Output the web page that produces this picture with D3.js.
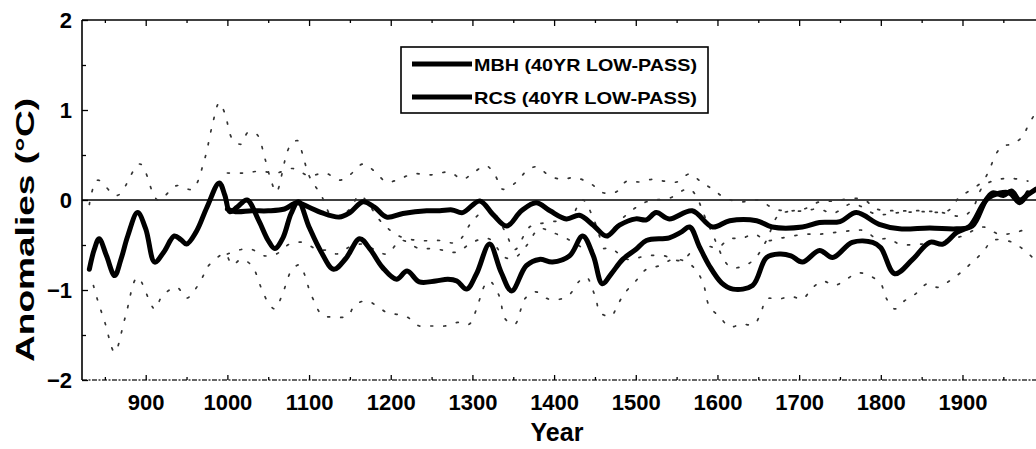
<!DOCTYPE html>
<html><head><meta charset="utf-8">
<script src="https://cdn.jsdelivr.net/npm/d3@7"></script>
<style>
body{margin:0;background:#fff}
svg{display:block}
text{font-family:"Liberation Sans",Arial,Helvetica,sans-serif;fill:#000}
</style>
</head><body>
<svg id="c" width="1036" height="449"></svg>
<script>
// ---- data ----
const xTicks = [900,1000,1100,1200,1300,1400,1500,1600,1700,1800,1900];
const xMinorTicks = [850,950,1050,1150,1250,1350,1450,1550,1650,1750,1850,1950];
const yTicks = [-2,-1,0,1,2];
const yMinorTicks = [-1.5,-0.5,0.5,1.5];
const seriesNames = ["MBH (40YR LOW-PASS)","RCS (40YR LOW-PASS)"];

const mbh = [[1000,-0.10],[1010,-0.13],[1030,-0.12],[1050,-0.12],[1070,-0.10],[1085,-0.03],[1100,-0.08],[1115,-0.14],[1137,-0.19],[1150,-0.14],[1166,-0.02],[1180,-0.08],[1195,-0.19],[1215,-0.15],[1244,-0.12],[1260,-0.12],[1275,-0.11],[1288,-0.14],[1309,-0.01],[1325,-0.16],[1342,-0.29],[1360,-0.12],[1378,-0.03],[1395,-0.12],[1415,-0.21],[1431,-0.17],[1448,-0.28],[1464,-0.40],[1480,-0.28],[1500,-0.21],[1513,-0.22],[1525,-0.14],[1541,-0.21],[1569,-0.12],[1594,-0.30],[1615,-0.23],[1648,-0.23],[1667,-0.30],[1704,-0.30],[1725,-0.25],[1750,-0.24],[1770,-0.14],[1798,-0.27],[1823,-0.32],[1860,-0.31],[1893,-0.32],[1912,-0.29],[1929,0.00],[1937,0.05],[1957,0.08],[1970,-0.03],[1980,0.08]];

const rcs = [[831,-0.77],[837,-0.55],[843,-0.43],[852,-0.62],[862,-0.84],[870,-0.65],[878,-0.40],[890,-0.14],[900,-0.32],[911,-0.69],[922,-0.58],[935,-0.40],[943,-0.44],[950,-0.49],[962,-0.35],[975,-0.08],[990,0.19],[997,0.05],[1003,-0.13],[1012,-0.08],[1024,0.00],[1038,-0.22],[1050,-0.45],[1058,-0.54],[1068,-0.42],[1078,-0.15],[1087,-0.02],[1100,-0.30],[1115,-0.58],[1130,-0.77],[1145,-0.65],[1162,-0.43],[1175,-0.55],[1190,-0.75],[1207,-0.88],[1220,-0.79],[1235,-0.91],[1255,-0.90],[1270,-0.88],[1281,-0.90],[1293,-0.99],[1305,-0.82],[1321,-0.49],[1335,-0.80],[1348,-1.01],[1366,-0.73],[1382,-0.66],[1398,-0.69],[1419,-0.62],[1435,-0.40],[1448,-0.62],[1459,-0.93],[1470,-0.82],[1484,-0.66],[1500,-0.55],[1513,-0.45],[1541,-0.42],[1555,-0.36],[1566,-0.30],[1578,-0.52],[1590,-0.73],[1605,-0.92],[1619,-0.99],[1643,-0.95],[1660,-0.64],[1676,-0.60],[1690,-0.62],[1704,-0.69],[1725,-0.56],[1741,-0.64],[1765,-0.47],[1790,-0.47],[1800,-0.53],[1817,-0.82],[1839,-0.66],[1860,-0.47],[1876,-0.49],[1893,-0.36],[1909,-0.29],[1925,-0.05],[1937,0.08],[1950,0.05],[1960,0.10],[1970,0.00],[1980,0.06],[1990,0.12]];

// dotted uncertainty bounds
const mbhUpper = [[1000,0.30],[1020,0.30],[1040,0.32],[1060,0.30],[1080,0.35],[1100,0.27],[1120,0.30],[1137,0.22],[1150,0.28],[1166,0.40],[1180,0.32],[1195,0.20],[1210,0.23],[1227,0.29],[1250,0.28],[1272,0.31],[1288,0.23],[1302,0.31],[1317,0.38],[1328,0.27],[1337,0.12],[1354,0.20],[1366,0.32],[1379,0.37],[1394,0.27],[1410,0.23],[1425,0.25],[1445,0.18],[1460,0.08],[1476,0.09],[1489,0.21],[1504,0.20],[1521,0.23],[1535,0.21],[1550,0.20],[1566,0.29],[1580,0.20],[1594,0.12],[1610,0.02],[1630,-0.02],[1650,0.00],[1670,-0.10],[1690,-0.12],[1706,-0.10],[1725,-0.02],[1745,-0.01],[1765,0.02],[1780,0.00],[1795,-0.10],[1823,-0.12],[1850,-0.12],[1875,-0.14],[1900,-0.18],[1912,-0.10],[1925,0.15],[1940,0.22],[1960,0.24],[1980,0.21]];

const mbhLower = [[1000,-0.60],[1017,-0.55],[1030,-0.55],[1045,-0.62],[1060,-0.60],[1076,-0.49],[1092,-0.47],[1110,-0.55],[1123,-0.56],[1134,-0.60],[1150,-0.52],[1166,-0.49],[1180,-0.55],[1195,-0.60],[1213,-0.45],[1235,-0.54],[1250,-0.54],[1266,-0.56],[1281,-0.58],[1300,-0.47],[1320,-0.43],[1340,-0.64],[1352,-0.64],[1366,-0.51],[1382,-0.32],[1398,-0.36],[1420,-0.45],[1440,-0.55],[1460,-0.54],[1470,-0.54],[1490,-0.66],[1513,-0.62],[1535,-0.62],[1545,-0.66],[1557,-0.67],[1570,-0.56],[1582,-0.50],[1600,-0.53],[1615,-0.43],[1629,-0.43],[1645,-0.38],[1660,-0.45],[1680,-0.42],[1707,-0.38],[1725,-0.38],[1745,-0.36],[1765,-0.34],[1780,-0.34],[1795,-0.43],[1810,-0.43],[1823,-0.49],[1850,-0.49],[1876,-0.45],[1900,-0.40],[1925,-0.30],[1945,-0.38],[1965,-0.36],[1985,-0.30]];

const rcsUpper = [[831,-0.05],[841,0.22],[865,0.05],[893,0.40],[915,0.00],[938,0.16],[957,0.12],[972,0.45],[981,0.81],[990,1.08],[997,0.96],[1006,0.68],[1017,0.62],[1025,0.75],[1036,0.73],[1046,0.46],[1054,0.20],[1060,0.09],[1076,0.59],[1086,0.66],[1092,0.51],[1100,0.27],[1115,0.05],[1130,-0.20],[1150,-0.10],[1162,0.05],[1189,-0.25],[1210,-0.40],[1235,-0.45],[1260,-0.45],[1281,-0.47],[1302,-0.21],[1321,-0.10],[1340,-0.35],[1352,-0.55],[1370,-0.30],[1390,-0.25],[1419,-0.20],[1435,0.00],[1448,-0.20],[1460,-0.45],[1484,-0.20],[1513,-0.02],[1541,0.02],[1566,0.12],[1590,-0.30],[1615,-0.74],[1630,-0.74],[1645,-0.66],[1660,-0.45],[1676,-0.16],[1706,-0.12],[1725,-0.10],[1741,-0.15],[1765,-0.04],[1795,-0.16],[1823,-0.14],[1850,-0.13],[1882,-0.12],[1896,0.03],[1908,0.10],[1925,0.21],[1933,0.34],[1941,0.51],[1949,0.60],[1961,0.62],[1974,0.71],[1980,0.82],[1990,0.98]];

const rcsLower = [[836,-0.95],[840,-1.08],[850,-1.36],[862,-1.69],[875,-1.30],[890,-0.86],[911,-1.21],[920,-1.07],[938,-0.97],[950,-1.09],[960,-1.00],[970,-0.85],[975,-0.75],[997,-0.60],[1006,-0.72],[1017,-0.66],[1030,-0.73],[1042,-0.99],[1050,-1.14],[1058,-1.21],[1066,-1.08],[1072,-0.93],[1078,-0.79],[1088,-0.72],[1095,-0.84],[1100,-0.99],[1106,-1.12],[1116,-1.28],[1129,-1.30],[1147,-1.29],[1156,-1.17],[1170,-1.12],[1185,-1.19],[1195,-1.25],[1207,-1.27],[1220,-1.30],[1235,-1.40],[1250,-1.40],[1266,-1.40],[1282,-1.36],[1296,-1.38],[1305,-1.21],[1309,-1.10],[1315,-0.95],[1321,-0.90],[1333,-1.07],[1340,-1.32],[1352,-1.38],[1358,-1.25],[1364,-1.10],[1377,-1.02],[1393,-1.10],[1408,-1.10],[1420,-1.04],[1431,-0.90],[1440,-0.86],[1447,-0.99],[1452,-1.13],[1456,-1.25],[1470,-1.29],[1477,-1.18],[1486,-1.04],[1500,-0.90],[1513,-0.77],[1529,-0.73],[1545,-0.66],[1557,-0.67],[1570,-0.74],[1582,-0.91],[1590,-1.18],[1603,-1.30],[1615,-1.41],[1629,-1.38],[1645,-1.38],[1654,-1.23],[1660,-1.10],[1676,-1.10],[1690,-1.07],[1704,-1.10],[1716,-0.98],[1729,-0.90],[1743,-0.95],[1758,-0.88],[1772,-0.81],[1786,-0.84],[1800,-0.93],[1806,-1.08],[1817,-1.21],[1829,-1.12],[1843,-1.04],[1857,-0.93],[1870,-0.97],[1884,-0.90],[1900,-0.79],[1912,-0.69],[1925,-0.58],[1937,-0.45],[1961,-0.47],[1986,-0.64]];

// ---- drawing ----
const W = 1036, H = 449;
const svg = d3.select('#c');
const x = d3.scaleLinear().domain([822, 1990]).range([82, 1036]);
const y = d3.scaleLinear().domain([-2, 2]).range([380, 20]);

svg.append('defs').append('clipPath').attr('id','plot')
  .append('rect').attr('x',82).attr('y',20).attr('width',W-82).attr('height',360);

const line = d3.line().x(d => x(d[0])).y(d => y(d[1])).curve(d3.curveCatmullRom.alpha(0.5));

const g = svg.append('g').attr('clip-path','url(#plot)');

// zero line
g.append('line').attr('x1',x(822)).attr('x2',x(1990)).attr('y1',y(0)).attr('y2',y(0))
  .attr('stroke','#000').attr('stroke-width',1.3);

// dotted bounds
[mbhUpper, mbhLower, rcsUpper, rcsLower].forEach(s => {
  g.append('path').datum(s).attr('d', line).attr('fill','none')
    .attr('stroke','#333').attr('stroke-width',1.7)
    .attr('stroke-dasharray','2,11').attr('stroke-linecap','round');
});

// main series
[rcs, mbh].forEach(s => {
  g.append('path').datum(s).attr('d', line).attr('fill','none')
    .attr('stroke','#000').attr('stroke-width',5)
    .attr('stroke-linejoin','round').attr('stroke-linecap','round');
});

// axes
const fmt = d3.format('d');
const topMajor = svg.append('g').attr('transform','translate(0,20)')
  .call(d3.axisTop(x).tickValues(xTicks).tickSize(-6).tickFormat(''));
topMajor.select('.domain').attr('stroke-width',1.6).attr('d','M82,0H1036');
svg.append('g').attr('transform','translate(0,20)')
  .call(d3.axisTop(x).tickValues(xMinorTicks).tickSize(-3).tickFormat(''))
  .select('.domain').remove();

const bottom = svg.append('g').attr('transform','translate(0,380)')
  .call(d3.axisBottom(x).tickValues(xTicks).tickSize(-5).tickPadding(14).tickFormat(fmt));
bottom.select('.domain').attr('d','M82,0H1036').attr('stroke','#333')
  .attr('stroke-width',1.4).attr('stroke-dasharray','5,1.5,2,1.5');
bottom.selectAll('text').attr('font-size',22).attr('font-weight','bold');
svg.append('g').attr('transform','translate(0,380)')
  .call(d3.axisBottom(x).tickValues(xMinorTicks).tickSize(-3).tickFormat(''))
  .select('.domain').remove();

const left = svg.append('g').attr('transform','translate(82,0)')
  .call(d3.axisLeft(y).tickValues(yTicks).tickSize(-6).tickPadding(10).tickFormat(fmt));
left.select('.domain').attr('stroke-width',1.6).attr('d','M0,20V380');
left.selectAll('text').attr('font-size',22).attr('font-weight','bold');
svg.append('g').attr('transform','translate(82,0)')
  .call(d3.axisLeft(y).tickValues(yMinorTicks).tickSize(-4).tickFormat(''))
  .select('.domain').remove();

svg.selectAll('.tick line').attr('stroke-width',1.3);

// axis titles
svg.append('text').attr('transform','translate(34,230) rotate(-90)')
  .attr('text-anchor','middle').attr('font-size',26).attr('font-weight','bold')
  .attr('textLength',264).attr('lengthAdjust','spacingAndGlyphs')
  .text('Anomalies (°C)');
svg.append('text').attr('x',557).attr('y',441).attr('text-anchor','middle')
  .attr('font-size',25).attr('font-weight','bold').text('Year');

// legend
const lg = svg.append('g');
lg.append('rect').attr('x',401).attr('y',47).attr('width',307).attr('height',66)
  .attr('fill','#fff').attr('stroke','#000').attr('stroke-width',1.6);
seriesNames.forEach((name, i) => {
  const cy = 64 + i * 33;
  lg.append('line').attr('x1',412).attr('x2',472).attr('y1',cy).attr('y2',cy)
    .attr('stroke','#000').attr('stroke-width',5);
  lg.append('text').attr('x',474).attr('y',cy + 6.5)
    .attr('font-size',17).attr('font-weight','bold')
    .attr('textLength',223).attr('lengthAdjust','spacingAndGlyphs')
    .text(name);
});
</script>
</body></html>
